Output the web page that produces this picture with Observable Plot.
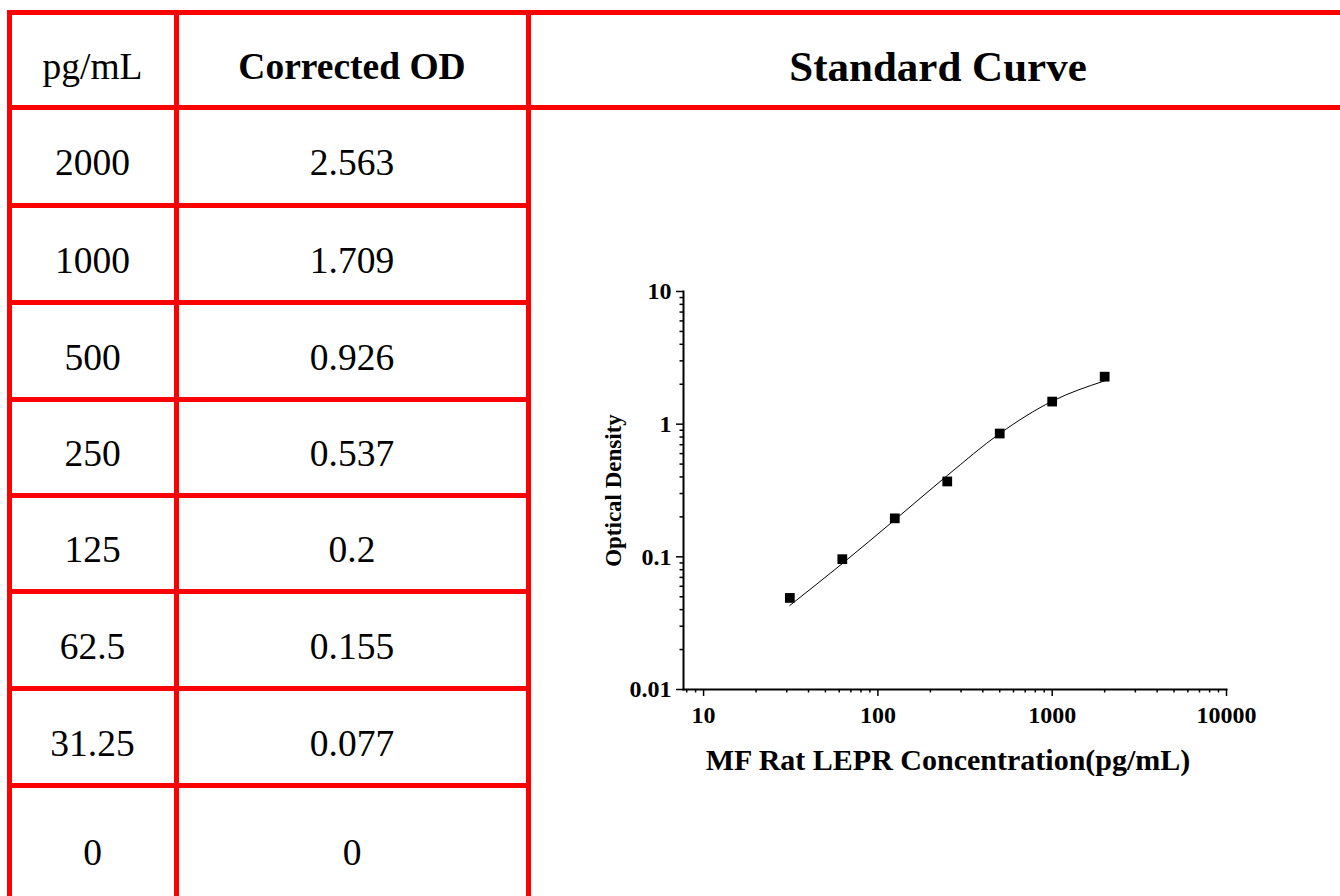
<!DOCTYPE html>
<html>
<head>
<meta charset="utf-8">
<script src="https://cdn.jsdelivr.net/npm/d3@7"></script>
<script src="https://cdn.jsdelivr.net/npm/@observablehq/plot@0.6"></script>
<style>
  html, body { margin: 0; padding: 0; background: #fff; width: 1340px; height: 896px; overflow: hidden; }
  #page { position: relative; width: 1340px; height: 896px; font-family: "Liberation Serif", "Times New Roman", serif; color: #000; }
  .ln { position: absolute; background: #ff0000; }
  .cell { position: absolute; display: flex; align-items: center; justify-content: center; font-size: 37.5px; padding-top: 13px; box-sizing: border-box; }
  .bold { font-weight: bold; }
  #chart { position: absolute; left: 560px; top: 260px; }
</style>
</head>
<body>
<div id="page"></div>
<script>
// ---- data ----
const headerLabels = ["pg/mL", "Corrected OD", "Standard Curve"];
const concentrations = [2000, 1000, 500, 250, 125, 62.5, 31.25, 0];
const correctedOD = [2.563, 1.709, 0.926, 0.537, 0.2, 0.155, 0.077, 0];

const pointConc = [31.25, 62.5, 125, 250, 500, 1000, 2000];
const pointOD = [0.049, 0.096, 0.195, 0.37, 0.85, 1.48, 2.28];
const curveOD = [0.043, 0.089, 0.19, 0.41, 0.85, 1.49, 2.12];

const xMajorTicks = [10, 100, 1000, 10000];
const xMinorTicks = [8, 9, 20, 30, 40, 50, 60, 70, 80, 90, 200, 300, 400, 500, 600, 700, 800, 900, 2000, 3000, 4000, 5000, 6000, 7000, 8000, 9000];
const yMajorTicks = [0.01, 0.1, 1, 10];
const yMinorTicks = [0.02, 0.03, 0.04, 0.05, 0.06, 0.07, 0.08, 0.09, 0.2, 0.3, 0.4, 0.5, 0.6, 0.7, 0.8, 0.9, 2, 3, 4, 5, 6, 7, 8, 9];

const xLabel = "MF Rat LEPR Concentration(pg/mL)";
const yLabel = "Optical Density";

// ---- table layout ----
const page = document.getElementById("page");
const colEdges = [9, 176, 528, 1350];
const rowEdges = [12, 107, 205, 302, 399, 495, 591, 688, 785, 906];
const lw = 5;

function line(x, y, w, h) {
  const d = document.createElement("div");
  d.className = "ln";
  Object.assign(d.style, {left: x + "px", top: y + "px", width: w + "px", height: h + "px"});
  page.appendChild(d);
}
function cell(x0, x1, y0, y1, text, bold) {
  const d = document.createElement("div");
  d.className = "cell" + (bold ? " bold" : "");
  Object.assign(d.style, {left: x0 + "px", top: y0 + "px", width: (x1 - x0) + "px", height: (y1 - y0) + "px"});
  d.textContent = text;
  page.appendChild(d);
}

// header cells
cell(colEdges[0], colEdges[1], rowEdges[0], rowEdges[1], headerLabels[0], false);
cell(colEdges[1], colEdges[2], rowEdges[0], rowEdges[1], headerLabels[1], true);
const t = document.createElement("div");
t.className = "cell bold";
Object.assign(t.style, {left: colEdges[2] + "px", top: rowEdges[0] + "px", width: "820px", height: (rowEdges[1] - rowEdges[0]) + "px", fontSize: "43px"});
t.textContent = headerLabels[2];
page.appendChild(t);

// body cells
concentrations.forEach((c, i) => {
  cell(colEdges[0], colEdges[1], rowEdges[i + 1], rowEdges[i + 2], String(c), false);
  cell(colEdges[1], colEdges[2], rowEdges[i + 1], rowEdges[i + 2], String(correctedOD[i]), false);
});

// grid lines
line(colEdges[0] - lw / 2, rowEdges[0] - lw / 2, colEdges[3] - colEdges[0] + lw, lw);
line(colEdges[0] - lw / 2, rowEdges[1] - lw / 2, colEdges[3] - colEdges[0] + lw, lw);
for (let i = 2; i < rowEdges.length - 1; i++) {
  line(colEdges[0] - lw / 2, rowEdges[i] - lw / 2, colEdges[2] - colEdges[0] + lw, lw);
}
for (let j = 0; j < 3; j++) {
  line(colEdges[j] - lw / 2, rowEdges[0] - lw / 2, lw, 920 - rowEdges[0]);
}

// ---- chart ----
const points = pointConc.map((c, i) => ({conc: c, od: pointOD[i]}));
const curve = pointConc.map((c, i) => ({conc: c, od: curveOD[i]}));

const chart = Plot.plot({
  width: 700,
  height: 530,
  marginLeft: 123,
  marginRight: 34,
  marginTop: 31,
  marginBottom: 101,
  style: {fontFamily: "Liberation Serif, Times New Roman, serif", fontWeight: "bold", fontSize: "24px", color: "#000", background: "transparent", overflow: "visible"},
  x: {type: "log", domain: [7.67, 10000]},
  y: {type: "log", domain: [0.01, 10]},
  marks: [
    Plot.axisX({ticks: xMinorTicks, tickSize: 3.5, text: null, strokeWidth: 1.5, label: null}),
    Plot.axisX({ticks: xMajorTicks, tickSize: 7, tickFormat: d => String(d), strokeWidth: 1.5, tickPadding: 9,
      fontSize: 24, fontWeight: "bold", label: xLabel, labelAnchor: "center", labelArrow: "none", labelOffset: 80}),
    Plot.axisY({ticks: yMinorTicks, tickSize: 3.5, text: null, strokeWidth: 1.5, label: null}),
    Plot.axisY({ticks: yMajorTicks, tickSize: 7, tickFormat: d => String(d), strokeWidth: 1.5, tickPadding: 5,
      fontSize: 24, fontWeight: "bold", label: yLabel, labelAnchor: "center", labelArrow: "none", labelOffset: 79}),
    Plot.frame({anchor: "left", strokeWidth: 2}),
    Plot.frame({anchor: "bottom", strokeWidth: 2}),
    Plot.line(curve, {x: "conc", y: "od", curve: "monotone-x", stroke: "#000", strokeWidth: 1}),
    Plot.dot(points, {x: "conc", y: "od", symbol: "square", fill: "#000", r: 5.5})
  ]
});
const holder = document.createElement("div");
holder.id = "chart";
holder.appendChild(chart);
page.appendChild(holder);

// style axis labels
chart.querySelectorAll("[aria-label='x-axis label'] text, [aria-label='x-axis label']").forEach(el => { el.style.fontSize = "30px"; });
chart.querySelectorAll("[aria-label='x-axis label'] text").forEach(el => { el.setAttribute("dx", "-7"); });
chart.querySelectorAll("[aria-label='y-axis label'] text, [aria-label='y-axis label']").forEach(el => { el.style.fontSize = "23px"; });
</script>
</body>
</html>
